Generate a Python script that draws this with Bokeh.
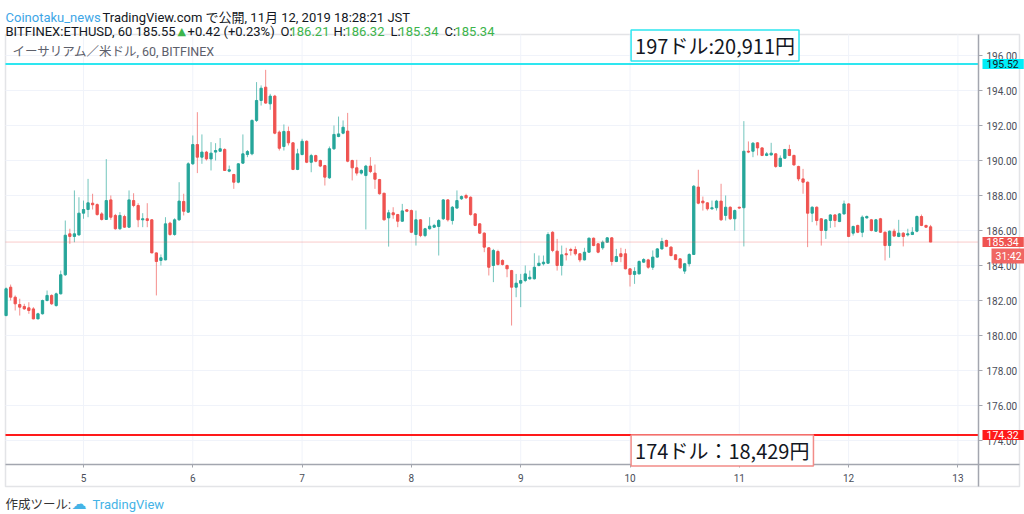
import pandas as pd
from bokeh.plotting import figure
from bokeh.models import (ColumnDataSource, Label, FixedTicker, BoxAnnotation,
                          NumeralTickFormatter, Range1d)
from bokeh.embed import file_html
from bokeh.resources import INLINE

# ---------------- data (ETH/USD, 60 min, BITFINEX, JST) ----------------
start_time = "2019-11-04 07:00"
opens = [181.14, 182.76, 182.19, 181.77, 181.66, 181.58, 181.52, 180.95, 181.24, 182.00,
         182.29, 181.71, 182.38, 183.47, 185.81, 185.66, 185.75, 186.99, 187.20, 187.56,
         187.48, 186.95, 186.63, 187.75, 186.86, 186.10, 186.80, 186.19, 187.71, 187.43,
         186.61, 186.67, 186.61, 184.72, 184.29, 184.32, 186.42, 185.77, 186.61, 187.66,
         187.05, 189.81, 190.91, 190.19, 190.48, 190.09, 190.48, 190.53, 190.63, 189.39,
         189.20, 188.76, 189.85, 190.34, 190.38, 192.29, 193.43, 194.19, 193.24, 193.68,
         191.62, 190.80, 191.66, 191.01, 189.49, 190.34, 191.10, 189.90, 190.28, 190.00,
         189.71, 189.01, 190.67, 191.37, 191.56, 191.68, 190.00, 189.58, 189.28, 189.14,
         189.68, 189.28, 188.91, 188.13, 186.72, 187.01, 186.91, 186.53, 187.18, 187.14,
         185.77, 186.61, 185.71, 186.10, 186.19, 186.23, 186.67, 187.75, 186.57, 187.28,
         187.81, 188.00, 187.90, 186.95, 186.38, 185.85, 185.01, 184.00, 184.80, 184.29,
         184.00, 183.71, 182.76, 182.99, 183.14, 183.24, 183.24, 184.00, 184.10, 184.13,
         185.90, 184.82, 184.00, 184.67, 184.91, 184.91, 184.67, 184.32, 184.76, 185.56,
         185.24, 185.01, 185.33, 185.58, 184.23, 184.67, 184.67, 183.81, 183.49, 183.52,
         184.19, 184.32, 183.90, 184.48, 184.95, 185.43, 185.05, 184.61, 184.38, 183.68,
         184.10, 184.63, 188.48, 187.68, 187.58, 187.24, 187.30, 187.68, 186.86, 187.33,
         186.67, 187.33, 187.30, 190.53, 190.53, 191.01, 190.72, 190.29, 190.32, 190.38,
         189.66, 190.13, 190.63, 190.29, 189.66, 188.95, 188.76, 186.99, 187.33, 186.67,
         186.00, 186.57, 186.89, 186.51, 186.95, 187.52, 185.85, 186.29, 185.90, 186.72,
         186.61, 185.96, 186.67, 185.90, 185.14, 185.96, 185.66, 185.85, 185.75, 185.77,
         185.96, 186.80, 186.29, 186.21]
highs = [182.75, 182.91, 182.29, 182.10, 181.81, 181.90, 181.62, 181.30, 182.05, 182.57,
         182.35, 182.45, 183.71, 186.57, 186.10, 188.29, 187.90, 187.71, 188.95, 188.10,
         187.55, 187.05, 190.08, 188.00, 186.95, 187.05, 186.90, 188.29, 188.13, 187.56,
         186.99, 187.56, 186.65, 184.75, 184.63, 186.76, 186.50, 186.70, 188.76, 188.10,
         189.90, 191.43, 192.76, 191.49, 190.55, 191.05, 190.99, 191.28, 190.70, 189.71,
         189.24, 189.85, 191.49, 190.60, 192.35, 194.48, 194.29, 195.18, 193.81, 193.75,
         191.71, 192.06, 191.94, 191.05, 190.67, 191.24, 191.15, 190.38, 190.33, 190.05,
         189.75, 190.80, 192.00, 192.51, 192.29, 192.72, 190.05, 190.04, 189.50, 189.75,
         190.19, 189.77, 188.95, 188.15, 187.18, 187.33, 186.95, 187.52, 187.22, 187.20,
         187.14, 186.65, 186.15, 186.76, 186.38, 186.65, 187.80, 187.80, 187.40, 188.29,
         188.00, 188.10, 187.95, 187.00, 186.42, 185.90, 185.05, 184.95, 184.90, 184.35,
         184.05, 183.75, 183.52, 183.52, 184.00, 183.71, 184.70, 184.57, 184.57, 185.90,
         185.96, 185.52, 185.14, 185.01, 185.01, 185.09, 184.70, 185.01, 185.60, 185.60,
         185.28, 185.43, 185.62, 185.62, 184.95, 185.01, 184.95, 183.85, 183.90, 184.29,
         184.42, 184.38, 184.86, 185.00, 185.58, 185.48, 185.10, 184.65, 184.42, 184.15,
         184.70, 188.60, 189.47, 187.94, 187.62, 187.71, 187.75, 188.67, 188.00, 187.38,
         187.20, 187.36, 192.25, 191.09, 191.05, 191.05, 190.76, 190.48, 191.01, 190.42,
         190.29, 190.66, 190.90, 190.33, 189.70, 189.52, 188.80, 187.38, 187.38, 186.70,
         186.65, 186.93, 186.93, 187.00, 187.71, 187.56, 186.28, 186.33, 186.86, 186.86,
         186.66, 186.66, 186.72, 185.95, 186.00, 186.10, 186.61, 185.90, 186.10, 186.19,
         186.86, 186.91, 186.33, 186.32]
lows = [181.10, 182.00, 181.43, 181.14, 181.47, 181.24, 180.93, 180.93, 181.20, 181.95,
        181.75, 181.65, 182.35, 183.40, 185.24, 185.33, 185.70, 186.67, 186.76, 187.20,
        186.85, 186.57, 186.60, 186.61, 186.05, 186.04, 186.15, 186.15, 187.33, 186.19,
        186.19, 186.19, 184.70, 182.29, 184.00, 184.30, 185.70, 185.70, 186.55, 186.86,
        187.00, 189.75, 189.28, 189.81, 190.00, 189.43, 190.00, 190.50, 189.40, 189.33,
        188.38, 188.70, 189.80, 190.19, 190.30, 192.20, 193.14, 193.24, 192.90, 191.50,
        190.57, 190.57, 190.86, 189.45, 189.45, 190.30, 189.85, 189.33, 189.90, 189.62,
        188.57, 188.95, 190.60, 191.33, 191.50, 189.90, 188.86, 189.14, 189.20, 186.06,
        189.28, 188.38, 188.05, 186.57, 185.08, 186.67, 186.19, 186.50, 187.05, 185.85,
        185.14, 185.62, 185.62, 186.05, 186.15, 184.57, 186.60, 186.51, 186.34, 187.25,
        187.75, 187.80, 186.85, 186.25, 185.80, 184.76, 183.43, 183.05, 184.00, 184.00,
        183.33, 180.57, 182.19, 181.62, 183.05, 183.18, 183.20, 183.95, 184.00, 184.10,
        184.76, 183.71, 183.43, 184.29, 184.57, 184.57, 184.19, 184.29, 184.72, 185.10,
        184.70, 184.90, 185.30, 184.00, 184.19, 184.19, 183.78, 182.80, 182.95, 183.50,
        184.15, 183.81, 183.75, 184.45, 184.90, 185.05, 184.52, 184.30, 183.80, 183.52,
        183.94, 184.60, 187.50, 187.14, 187.14, 187.18, 187.14, 186.55, 186.57, 186.60,
        186.00, 187.24, 185.09, 190.42, 190.19, 190.29, 190.25, 190.25, 190.28, 189.58,
        189.62, 190.10, 190.25, 189.70, 188.82, 188.10, 185.05, 186.48, 186.29, 185.14,
        185.52, 186.15, 186.19, 186.48, 186.90, 185.62, 185.71, 185.85, 185.62, 186.68,
        185.95, 185.92, 185.86, 184.29, 184.44, 185.66, 185.62, 185.09, 185.66, 185.74,
        185.90, 186.25, 186.15, 185.34]
closes = [182.67, 182.19, 181.81, 181.62, 181.52, 181.43, 180.95, 181.24, 182.00, 182.29,
          181.81, 182.38, 183.47, 185.73, 185.66, 185.81, 186.99, 187.20, 187.58, 187.47,
          186.91, 186.63, 187.71, 186.76, 186.10, 186.86, 186.19, 187.75, 187.43, 186.61,
          186.67, 186.57, 184.72, 184.23, 184.44, 186.38, 185.77, 186.61, 187.68, 187.10,
          189.81, 190.91, 190.19, 190.48, 190.09, 190.42, 190.57, 190.67, 189.43, 189.47,
          188.76, 189.81, 190.38, 190.51, 192.29, 193.43, 194.13, 193.28, 193.68, 191.56,
          190.70, 191.66, 191.01, 189.49, 190.38, 191.10, 189.90, 190.28, 189.96, 189.68,
          189.05, 190.67, 191.49, 191.52, 191.90, 189.96, 189.58, 189.28, 189.43, 189.68,
          189.37, 188.93, 188.10, 186.61, 187.01, 186.90, 186.53, 187.12, 187.10, 185.90,
          186.61, 185.71, 186.10, 186.25, 186.29, 186.57, 187.75, 186.61, 187.33, 187.71,
          187.94, 187.87, 186.91, 186.29, 185.85, 185.05, 183.90, 184.86, 184.06, 184.06,
          183.81, 182.76, 182.99, 183.14, 183.52, 183.33, 183.90, 184.13, 184.19, 185.77,
          184.86, 184.00, 184.61, 184.61, 184.86, 184.67, 184.32, 184.76, 185.56, 185.14,
          184.76, 185.33, 185.58, 184.23, 184.51, 184.51, 183.81, 183.49, 183.66, 184.23,
          184.34, 183.90, 184.48, 184.95, 185.37, 185.10, 184.57, 184.34, 183.87, 184.10,
          184.63, 188.53, 187.56, 187.58, 187.24, 187.30, 187.68, 186.61, 187.33, 186.67,
          187.14, 187.28, 190.53, 190.48, 190.99, 190.72, 190.29, 190.38, 190.42, 189.66,
          190.13, 190.63, 190.29, 189.75, 188.95, 188.76, 186.99, 187.33, 186.57, 186.00,
          186.61, 186.89, 186.57, 186.95, 187.52, 185.66, 186.23, 185.90, 186.76, 186.80,
          186.00, 186.61, 185.90, 185.14, 185.96, 185.68, 185.85, 185.66, 185.81, 185.90,
          186.80, 186.29, 186.19, 185.34]

resistance_price = 195.52
support_price = 174.32
last_price = 185.34
countdown = "31:42"
resistance_text = "197ドル:20,911円"
support_text = "174ドル：18,429円"
day_ticks = [5, 6, 7, 8, 9, 10, 11, 12, 13]
price_ticks = [174, 176, 178, 180, 182, 184, 186, 188, 190, 192, 194, 196]

# ---------------- layout geometry (pixels of the 1024x514 page) ----------------
W, H = 1024, 514
PX_DAY, X_DAY5 = 109.3, 83.0      # horizontal scale
PX_USD, Y_196 = 17.5, 55.0        # vertical scale
def xd(px): return 5 + (px - X_DAY5) / PX_DAY
def yd(py): return 196 - (py - Y_196) / PX_USD
PLOT_L, PLOT_R, PLOT_T, PLOT_B = xd(5), xd(978), yd(34), yd(464)
BOX_R, BOX_B = xd(1019), yd(486)

# ---------------- derived ----------------
times = pd.date_range(start_time, periods=len(opens), freq="h")
xday = [t.day + t.hour / 24 for t in times]
UP, DOWN = "#26a69a", "#ef5350"
up = dict(x=[], lo=[], hi=[], top=[], bot=[])
dn = dict(x=[], lo=[], hi=[], top=[], bot=[])
for x, o, h, l, c in zip(xday, opens, highs, lows, closes):
    d = up if c >= o else dn
    d["x"].append(x); d["lo"].append(l); d["hi"].append(h)
    d["top"].append(max(o, c)); d["bot"].append(min(o, c))

FONT = "Roboto, Noto Sans CJK JP"
GRID = "#f0f3fa"
BORDER = "#a3a6af"
AXIS_TXT = "#4a4e59"

p = figure(width=W, height=H, x_range=Range1d(xd(0), xd(W)),
           y_range=Range1d(yd(H), yd(0)), output_backend="svg",
           toolbar_location=None, y_axis_location="right",
           min_border=0)
p.background_fill_color = "white"
p.border_fill_color = "white"
p.outline_line_color = None
p.xgrid.visible = False
p.ygrid.visible = False

# grid lines inside the plot area
p.segment(x0=day_ticks, x1=day_ticks, y0=[PLOT_B] * len(day_ticks),
          y1=[PLOT_T] * len(day_ticks), line_color=GRID, line_width=1)
p.segment(x0=[PLOT_L] * len(price_ticks), x1=[PLOT_R] * len(price_ticks),
          y0=price_ticks, y1=price_ticks, line_color=GRID, line_width=1)

# axes placed on the chart box edges
xa, ya = p.xaxis[0], p.yaxis[0]
for ax in (xa, ya):
    ax.axis_line_color = BORDER
    ax.axis_line_width = 1.5
    ax.major_tick_line_color = BORDER
    ax.minor_tick_line_color = None
    ax.major_tick_in = 0
    ax.major_label_text_font = "Roboto"
    ax.major_label_text_font_size = "10px"
    ax.major_label_text_color = AXIS_TXT
xa.fixed_location = PLOT_B
xa.bounds = (PLOT_L, BOX_R)
xa.ticker = FixedTicker(ticks=day_ticks)
xa.major_tick_out = 3
xa.major_label_standoff = 6
ya.fixed_location = PLOT_R
ya.bounds = (BOX_B, PLOT_T)
ya.ticker = FixedTicker(ticks=price_ticks)
ya.formatter = NumeralTickFormatter(format="0.00")
ya.major_tick_out = 4
ya.major_label_standoff = 4

# outer box
p.add_layout(BoxAnnotation(left=PLOT_L, right=BOX_R, top=PLOT_T, bottom=BOX_B,
                           fill_alpha=0, line_color=BORDER, line_width=1.5,
                           level="underlay"))

# candles
for d, col in ((up, UP), (dn, DOWN)):
    src = ColumnDataSource(d)
    p.segment(x0="x", y0="lo", x1="x", y1="hi", source=src, line_color=col,
              line_alpha=0.65, line_width=1)
    p.vbar(x="x", width=0.5 / 24, top="top", bottom="bot", source=src,
           fill_color=col, line_color=col, line_width=1)

# horizontal levels
p.segment(x0=[PLOT_L], x1=[PLOT_R], y0=[last_price], y1=[last_price],
          line_color=DOWN, line_alpha=0.3, line_width=1)
p.segment(x0=[PLOT_L], x1=[PLOT_R], y0=[resistance_price], y1=[resistance_price],
          line_color="#2ee6f0", line_width=2)
p.segment(x0=[PLOT_L], x1=[PLOT_R], y0=[support_price], y1=[support_price],
          line_color="#ff1a1a", line_width=2)

# annotation boxes
p.add_layout(Label(x=10.01, y=resistance_price, y_offset=3, text=resistance_text,
                   text_baseline="bottom", text_font="Noto Sans CJK JP",
                   text_font_size="20px", text_color="#131722",
                   background_fill_color="white", border_line_color="#2ee6f0",
                   border_line_width=1.5,
                   padding=dict(left=4, right=4, top=1, bottom=1)))
p.add_layout(Label(x=10.01, y=support_price, y_offset=0, text=support_text,
                   text_baseline="top", text_font="Noto Sans CJK JP",
                   text_font_size="20px", text_color="#131722",
                   background_fill_color="white", border_line_color="#f28c88",
                   border_line_width=1.5,
                   padding=dict(left=4, right=4, top=1, bottom=1)))

# price badges on the axis
def badge(y, txt, bg, fg, x=982, y_off=0):
    p.add_layout(Label(x=x, x_units="screen", y=y, y_offset=y_off, text=txt,
                       text_baseline="middle", text_font="Roboto",
                       text_font_size="10.5px", text_color=fg,
                       background_fill_color=bg,
                       padding=dict(left=4, right=5, top=1, bottom=1)))

badge(resistance_price, f"{resistance_price:.2f}", "#00eef8", "#131722")
badge(last_price, f"{last_price:.2f}", DOWN, "white")
badge(last_price, countdown, "#f06663", "white", x=991, y_off=-14)
badge(support_price, f"{support_price:.2f}", "#ff1a1a", "white")

# header / title / footer texts (page pixels: x from left, baseline from top)
def txt(x, ybase, s, color, size="13px", font=FONT):
    p.add_layout(Label(x=x, y=H - ybase, x_units="screen", y_units="screen",
                       text=s, text_color=color, text_font=font,
                       text_font_size=size, text_baseline="alphabetic"))

DARK = "#131722"
GREEN = "#3cb44b"
txt(5, 17, "Coinotaku_news", "#3ea6e6")
txt(102, 17, "TradingView.com で公開, 11月 12, 2019 18:28:21 JST", DARK)
txt(5, 31, "BITFINEX:ETHUSD, 60 185.55", DARK)
txt(177, 31, "▲", GREEN, size="11px", font="DejaVu Sans")
txt(187, 31, "+0.42 (+0.23%)", DARK)
txt(280, 31, "O:", DARK)
txt(289, 31, "186.21", GREEN)
txt(333, 31, "H:", DARK)
txt(344, 31, "186.32", GREEN)
txt(390, 31, "L:", DARK)
txt(398, 31, "185.34", GREEN)
txt(444, 31, "C:", DARK)
txt(454, 31, "185.34", GREEN)
txt(12, 51, "イーサリアム／米ドル, 60, BITFINEX", "#5d606b", size="12.5px")
txt(5, 504, "作成ツール:", "#333333", size="12.5px")
txt(71, 503, "☁", "#45b3e6", size="15px", font="DejaVu Sans")
txt(92, 504, "TradingView", "#45b3e6", size="13px")

open("out.html", "w").write(file_html(p, INLINE))
